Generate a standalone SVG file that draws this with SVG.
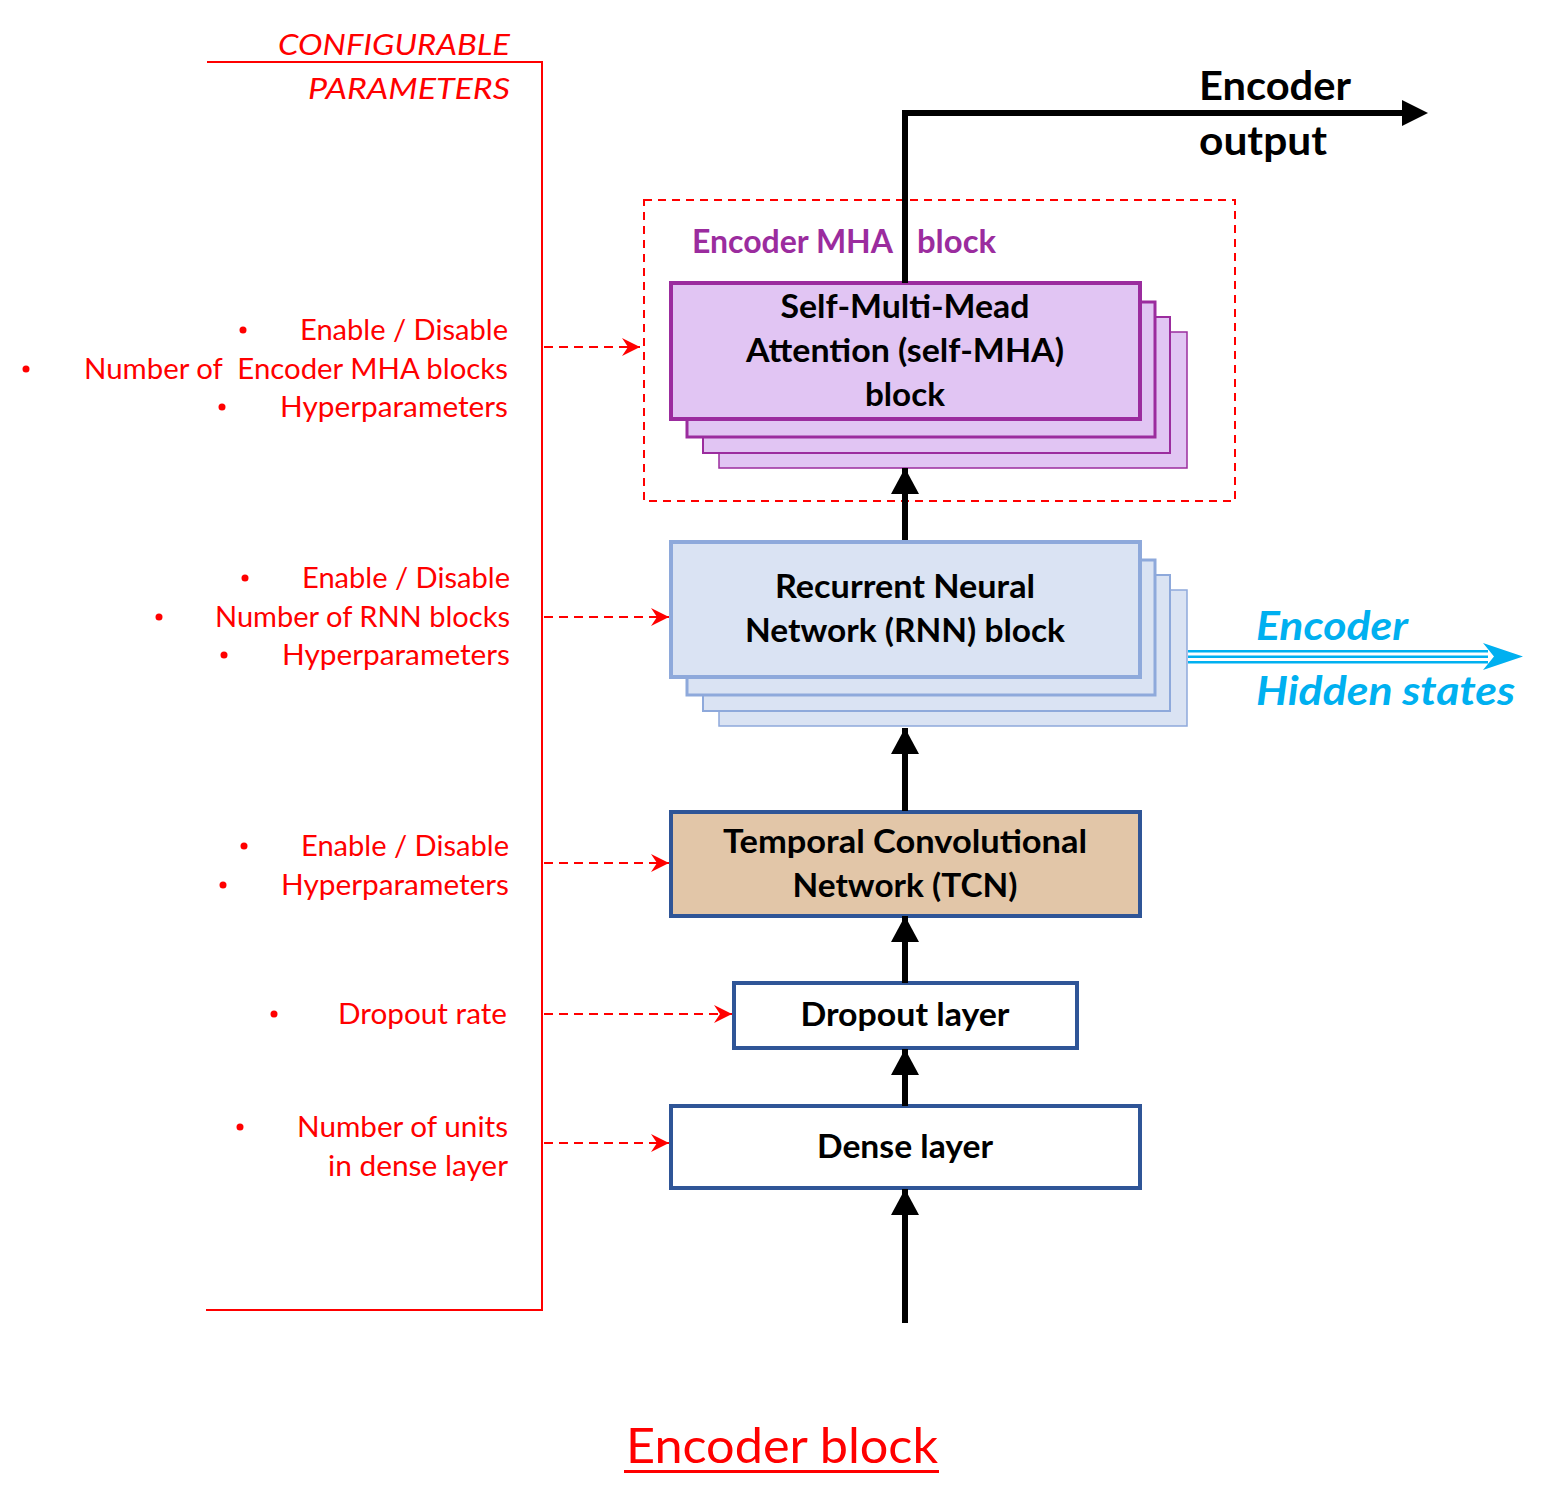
<svg xmlns="http://www.w3.org/2000/svg" width="1562" height="1498" viewBox="0 0 1562 1498">
<style>
.red{fill:#FF0000;font-family:Lato,"Liberation Sans",sans-serif;font-size:28px;text-anchor:end}
.node{font-family:Lato,"Liberation Sans",sans-serif;font-size:32px;font-weight:bold;fill:#000;text-anchor:middle}
.dash{stroke:#FF0000;stroke-width:2;stroke-dasharray:9,6;fill:none}
.blk{stroke:#000;stroke-width:6;fill:none}
</style>
<defs>
<marker id="rh" markerUnits="userSpaceOnUse" markerWidth="20" markerHeight="20" refX="18" refY="10" orient="auto">
<path d="M0,1 L18,10 L0,19 L6,10 z" fill="#FF0000"/>
</marker>
<marker id="bh" markerUnits="userSpaceOnUse" markerWidth="28" markerHeight="30" refX="26" refY="15" orient="auto">
<path d="M0,1 L26,15 L0,29 z" fill="#000"/>
</marker>
</defs>

<g id="bracket" fill="none" stroke="#FF0000" stroke-width="2">
<path d="M207,62 H542 V1310 H206"/>
</g>
<g id="param-title">
<text class="red" x="510" y="55" font-style="italic" font-size="32" textLength="232" lengthAdjust="spacingAndGlyphs">CONFIGURABLE</text>
<text class="red" x="510" y="99" font-style="italic" font-size="32" textLength="202" lengthAdjust="spacingAndGlyphs">PARAMETERS</text>
</g>

<g id="params-mha" fill="#FF0000">
<circle cx="243" cy="330" r="3.5"/><text class="red" x="508" y="340" textLength="208" lengthAdjust="spacingAndGlyphs">Enable / Disable</text>
<circle cx="26" cy="369" r="3.5"/><text class="red" x="508" y="379" textLength="424" lengthAdjust="spacingAndGlyphs">Number of&#160; Encoder MHA blocks</text>
<circle cx="222" cy="407" r="3.5"/><text class="red" x="508" y="417" textLength="228" lengthAdjust="spacingAndGlyphs">Hyperparameters</text>
</g>
<g id="params-rnn" fill="#FF0000">
<circle cx="245" cy="578" r="3.5"/><text class="red" x="510" y="588" textLength="208" lengthAdjust="spacingAndGlyphs">Enable / Disable</text>
<circle cx="159" cy="617" r="3.5"/><text class="red" x="510" y="627" textLength="295" lengthAdjust="spacingAndGlyphs">Number of RNN blocks</text>
<circle cx="224" cy="655" r="3.5"/><text class="red" x="510" y="665" textLength="228" lengthAdjust="spacingAndGlyphs">Hyperparameters</text>
</g>
<g id="params-tcn" fill="#FF0000">
<circle cx="244" cy="846" r="3.5"/><text class="red" x="509" y="856" textLength="208" lengthAdjust="spacingAndGlyphs">Enable / Disable</text>
<circle cx="223" cy="885" r="3.5"/><text class="red" x="509" y="895" textLength="228" lengthAdjust="spacingAndGlyphs">Hyperparameters</text>
</g>
<g id="params-dropout" fill="#FF0000">
<circle cx="274" cy="1014" r="3.5"/><text class="red" x="507" y="1024" textLength="169" lengthAdjust="spacingAndGlyphs">Dropout rate</text>
</g>
<g id="params-dense" fill="#FF0000">
<circle cx="240" cy="1127" r="3.5"/><text class="red" x="508" y="1137" textLength="211" lengthAdjust="spacingAndGlyphs">Number of units</text>
<text class="red" x="508" y="1176" textLength="180" lengthAdjust="spacingAndGlyphs">in dense layer</text>
</g>

<g id="mha-group">
<rect x="644" y="200" width="591" height="301" fill="none" stroke="#FF0000" stroke-width="2" stroke-dasharray="8,6"/>
<text x="692" y="253" font-family="Lato,'Liberation Sans',sans-serif" font-size="32" font-weight="bold" fill="#9B2C9E"><tspan x="692" textLength="201" lengthAdjust="spacingAndGlyphs">Encoder MHA</tspan><tspan x="917" textLength="79" lengthAdjust="spacingAndGlyphs">block</tspan></text>
</g>
<g id="mha-block">
<rect x="719" y="332" width="468" height="136" fill="#E1C5F3" stroke="#9B2C9E" stroke-width="1.5"/>
<rect x="703" y="317" width="467" height="136" fill="#E1C5F3" stroke="#9B2C9E" stroke-width="2"/>
<rect x="687" y="302" width="468" height="135" fill="#E1C5F3" stroke="#9B2C9E" stroke-width="3"/>
<rect x="671" y="283" width="469" height="136" fill="#E1C5F3" stroke="#9B2C9E" stroke-width="4"/>
<text class="node" x="905" y="318" textLength="249" lengthAdjust="spacingAndGlyphs">Self-Multi-Mead</text>
<text class="node" x="905" y="362" textLength="318" lengthAdjust="spacingAndGlyphs">Attention (self-MHA)</text>
<text class="node" x="905" y="406" textLength="80" lengthAdjust="spacingAndGlyphs">block</text>
</g>

<g id="rnn-block">
<rect x="719" y="590" width="468" height="136" fill="#DAE3F3" stroke="#8EA9DB" stroke-width="1.5"/>
<rect x="703" y="575" width="467" height="136" fill="#DAE3F3" stroke="#8EA9DB" stroke-width="2"/>
<rect x="687" y="560" width="468" height="135" fill="#DAE3F3" stroke="#8EA9DB" stroke-width="3"/>
<rect x="671" y="542" width="469" height="135" fill="#DAE3F3" stroke="#8EA9DB" stroke-width="4"/>
<text class="node" x="905" y="598" textLength="260" lengthAdjust="spacingAndGlyphs">Recurrent Neural</text>
<text class="node" x="905" y="642" textLength="320" lengthAdjust="spacingAndGlyphs">Network (RNN) block</text>
</g>

<g id="tcn-block">
<rect x="671" y="812" width="469" height="104" fill="#E2C6A8" stroke="#2F5597" stroke-width="4"/>
<text class="node" x="905" y="853" textLength="364" lengthAdjust="spacingAndGlyphs">Temporal Convolutional</text>
<text class="node" x="905" y="897" textLength="225" lengthAdjust="spacingAndGlyphs">Network (TCN)</text>
</g>

<g id="dropout-layer">
<rect x="734" y="983" width="343" height="65" fill="#FFFFFF" stroke="#2F5597" stroke-width="4"/>
<text class="node" x="905" y="1026" textLength="209" lengthAdjust="spacingAndGlyphs">Dropout layer</text>
</g>

<g id="dense-layer">
<rect x="671" y="1106" width="469" height="82" fill="#FFFFFF" stroke="#2F5597" stroke-width="4"/>
<text class="node" x="905" y="1158" textLength="176" lengthAdjust="spacingAndGlyphs">Dense layer</text>
</g>

<g id="connectors">
<path class="dash" d="M544,347 H640" marker-end="url(#rh)"/>
<path class="dash" d="M544,617 H669" marker-end="url(#rh)"/>
<path class="dash" d="M544,863 H669" marker-end="url(#rh)"/>
<path class="dash" d="M544,1014 H732" marker-end="url(#rh)"/>
<path class="dash" d="M544,1143 H669" marker-end="url(#rh)"/>

<path class="blk" d="M905,1323 V1189" marker-end="url(#bh)"/>
<path class="blk" d="M905,1106 V1049" marker-end="url(#bh)"/>
<path class="blk" d="M905,983 V916" marker-end="url(#bh)"/>
<path class="blk" d="M905,811 V728" marker-end="url(#bh)"/>
<path class="blk" d="M905,540 V468" marker-end="url(#bh)"/>
<path d="M905,283 V113 H1403" stroke="#000" stroke-width="6" fill="none"/>
<path d="M1402,100 L1428,113 L1402,126 z" fill="#000"/>

<g id="hidden-arrow" fill="#00B0F0">
<rect x="1188" y="650" width="300" height="2.5"/>
<rect x="1188" y="655.5" width="300" height="2.5"/>
<rect x="1188" y="661" width="300" height="2.5"/>
<path d="M1483,643 L1523,656.5 L1483,670 L1494,656.5 z"/>
</g>
</g>

<g id="output-label">
<text x="1199" y="100" font-family="Lato,'Liberation Sans',sans-serif" font-size="40" font-weight="bold" fill="#000" textLength="152" lengthAdjust="spacingAndGlyphs">Encoder</text>
<text x="1199" y="155" font-family="Lato,'Liberation Sans',sans-serif" font-size="40" font-weight="bold" fill="#000" textLength="128" lengthAdjust="spacingAndGlyphs">output</text>
</g>
<g id="hidden-label">
<text x="1256" y="640" font-family="Lato,'Liberation Sans',sans-serif" font-size="40" font-weight="bold" font-style="italic" fill="#00B0F0" textLength="152" lengthAdjust="spacingAndGlyphs">Encoder</text>
<text x="1256" y="705" font-family="Lato,'Liberation Sans',sans-serif" font-size="40" font-weight="bold" font-style="italic" fill="#00B0F0" textLength="259" lengthAdjust="spacingAndGlyphs">Hidden states</text>
</g>

<g id="title">
<text x="626" y="1463" font-family="Lato,'Liberation Sans',sans-serif" font-size="48" fill="#FF0000" textLength="312" lengthAdjust="spacingAndGlyphs">Encoder block</text>
<rect x="624" y="1470" width="315" height="3" fill="#FF0000"/>
</g>
</svg>
